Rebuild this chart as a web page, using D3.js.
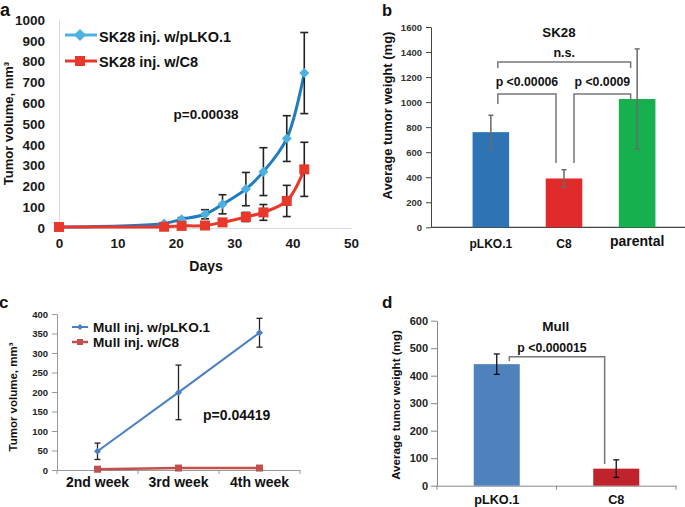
<!DOCTYPE html>
<html>
<head>
<meta charset="utf-8">
<script src="https://cdn.jsdelivr.net/npm/d3@7/dist/d3.min.js"></script>
<style>
  html, body { margin: 0; padding: 0; background: #fff; }
  svg { display: block; }
  text { font-family: "Liberation Sans", Arial, sans-serif; font-weight: bold; }
</style>
</head>
<body>
<script>
// ---------- DATA ----------
// Panel a: SK28 tumor volume over days
const daysA = [0, 18, 21, 25, 28, 32, 35, 39, 42];
const sk28PLKO = [5, 22, 42, 66, 114, 187, 271, 430, 745];
const sk28PLKOErr = [0, 0, 8, 22, 46, 80, 115, 110, 195];
const sk28C8 = [5, 6, 10, 12, 27, 53, 75, 130, 282];
const sk28C8Err = [0, 0, 0, 0, 6, 22, 38, 75, 130];
const ticksAy = [0, 100, 200, 300, 400, 500, 600, 700, 800, 900, 1000];
const ticksAx = [0, 10, 20, 30, 40, 50];
const legendA = ["SK28 inj. w/pLKO.1", "SK28 inj. w/C8"];
const pValueA = "p=0.00038";

// Panel b: SK28 average tumor weight
const catsB = ["pLKO.1", "C8", "parental"];
const weightB = [760, 390, 1025];
const weightBErr = [135, 70, 400];
const ticksBy = [0, 200, 400, 600, 800, 1000, 1200, 1400, 1600];

// Panel c: Mull tumor volume by week
const weeksC = ["2nd week", "3rd week", "4th week"];
const mullPLKO = [48, 199, 352];
const mullPLKOErr = [21, 70, 37];
const mullC8 = [2, 5, 5];
const ticksCy = [0, 50, 100, 150, 200, 250, 300, 350, 400];
const legendC = ["Mull inj. w/pLKO.1", "Mull inj. w/C8"];
const pValueC = "p=0.04419";

// Panel d: Mull average tumor weight
const catsD = ["pLKO.1", "C8"];
const weightD = [442, 62];
const weightDErr = [37, 32];
const ticksDy = [0, 100, 200, 300, 400, 500, 600];

// ---------- SVG ----------
const svg = d3.select("body").append("svg").attr("width", 685).attr("height", 507);
const fmt = d3.format("d");

function diamondPath(r) { return `M0,${-r}L${r},0L0,${r}L${-r},0Z`; }

function errBars(g, xs, vals, errs, y, cap, color, width) {
  const idx = d3.range(vals.length).filter(i => errs[i] > 0);
  const eg = g.append("g").attr("stroke", color).attr("stroke-width", width).attr("fill", "none");
  idx.forEach(i => {
    const x = xs[i], y1 = y(vals[i] + errs[i]), y0 = y(vals[i] - errs[i]);
    eg.append("line").attr("x1", x).attr("x2", x).attr("y1", y1).attr("y2", y0);
    eg.append("line").attr("x1", x - cap / 2).attr("x2", x + cap / 2).attr("y1", y1).attr("y2", y1);
    eg.append("line").attr("x1", x - cap / 2).attr("x2", x + cap / 2).attr("y1", y0).attr("y2", y0);
  });
}

// ================= PANEL A =================
{
  const g = svg.append("g");
  const x = d3.scaleLinear().domain([0, 50]).range([59, 351]);
  const y = d3.scaleLinear().domain([0, 1000]).range([228, 20]);
  const blue = "#1f7cc3", blueM = "#4cb0e0", red = "#e8382b";

  const ya = g.append("g").attr("transform", "translate(59,0)")
    .call(d3.axisLeft(y).tickValues(ticksAy).tickFormat(fmt).tickSize(0).tickPadding(14).tickSizeOuter(0));
  const xa = g.append("g").attr("transform", "translate(0,228)")
    .call(d3.axisBottom(x).tickValues(ticksAx).tickFormat(fmt).tickSize(0).tickPadding(10).tickSizeOuter(0));
  [ya, xa].forEach(a => {
    a.select(".domain").attr("stroke", "#d9d9d9").attr("stroke-width", 1);
    a.selectAll("text").attr("font-size", 13.5).attr("fill", "#1a1a1a");
  });

  const line = (vals) => d3.line().x((d, i) => x(daysA[i])).y(d => y(d)).curve(d3.curveCatmullRom.alpha(0.5))(vals);
  g.append("path").attr("d", line(sk28PLKO)).attr("fill", "none").attr("stroke", blue).attr("stroke-width", 3);
  g.append("path").attr("d", line(sk28C8)).attr("fill", "none").attr("stroke", red).attr("stroke-width", 3);

  const xs = daysA.map(d => x(d));
  errBars(g, xs, sk28PLKO, sk28PLKOErr, y, 8, "#222", 1.6);
  errBars(g, xs, sk28C8, sk28C8Err, y, 8, "#222", 1.6);

  g.selectAll(".dm").data(sk28PLKO).join("path")
    .attr("transform", (d, i) => `translate(${x(daysA[i])},${y(d)})`)
    .attr("d", diamondPath(5)).attr("fill", blueM);
  g.selectAll(".sq").data(sk28C8).join("rect")
    .attr("x", (d, i) => x(daysA[i]) - 5).attr("y", d => y(d) - 5)
    .attr("width", 10).attr("height", 10).attr("fill", red);

  // legend
  g.append("line").attr("x1", 65).attr("x2", 97).attr("y1", 35).attr("y2", 35).attr("stroke", blueM).attr("stroke-width", 3);
  g.append("path").attr("transform", "translate(80,35)").attr("d", diamondPath(6)).attr("fill", blueM);
  g.append("text").attr("x", 99).attr("y", 41.5).attr("font-size", 14.5).attr("fill", "#111").text(legendA[0]);
  g.append("line").attr("x1", 65).attr("x2", 97).attr("y1", 61).attr("y2", 61).attr("stroke", red).attr("stroke-width", 3);
  g.append("rect").attr("x", 75).attr("y", 56).attr("width", 10).attr("height", 10).attr("fill", red);
  g.append("text").attr("x", 99).attr("y", 66.5).attr("font-size", 14.5).attr("fill", "#111").text(legendA[1]);

  g.append("text").attr("x", 206).attr("y", 118.5).attr("text-anchor", "middle").attr("font-size", 13.5).attr("fill", "#111").text(pValueA);
  g.append("text").attr("x", 206).attr("y", 271).attr("text-anchor", "middle").attr("font-size", 14).attr("fill", "#111").text("Days");
  g.append("text").attr("transform", "translate(12.5,123.5) rotate(-90)").attr("text-anchor", "middle")
    .attr("font-size", 13).attr("fill", "#111").text("Tumor volume, mm³");
  g.append("text").attr("x", 0).attr("y", 16).attr("font-size", 18).attr("fill", "#111").text("a");
}

// ================= PANEL B =================
{
  const g = svg.append("g");
  const x = d3.scaleBand().domain(catsB).range([436, 692]).paddingInner(0.5).paddingOuter(0.5);
  const y = d3.scaleLinear().domain([0, 1600]).range([227.3, 27]);
  const colors = ["#2e74b5", "#e12a2b", "#17b04f"];

  const ya = g.append("g").attr("transform", "translate(431,0)")
    .call(d3.axisLeft(y).tickValues(ticksBy).tickFormat(fmt).tickSize(5).tickPadding(4).tickSizeOuter(0));
  ya.select(".domain").attr("stroke", "#444");
  ya.selectAll(".tick line").attr("stroke", "#444");
  ya.selectAll("text").attr("font-size", 9.5).attr("fill", "#333");
  g.append("line").attr("x1", 431).attr("x2", 685).attr("y1", y(0)).attr("y2", y(0)).attr("stroke", "#444").attr("stroke-width", 1.2);

  g.selectAll(".bar").data(weightB).join("rect")
    .attr("x", (d, i) => x(catsB[i])).attr("width", x.bandwidth())
    .attr("y", d => y(d)).attr("height", d => y(0) - y(d))
    .attr("fill", (d, i) => colors[i]);

  errBars(g, catsB.map(c => x(c) + x.bandwidth() / 2), weightB, weightBErr, y, 5, "#6a6a6a", 1.5);

  const cx = c => x(c) + x.bandwidth() / 2;
  const br = g.append("g").attr("stroke", "#777").attr("stroke-width", 1.5).attr("fill", "none");
  const l1 = cx("pLKO.1") + 7, r1 = cx("C8") - 8;
  br.append("path").attr("d", `M${l1},${y(985)}V${y(1065)}H${r1}V${y(513)}`);
  const l2 = cx("C8") + 10, r2 = cx("parental") - 6.5;
  br.append("path").attr("d", `M${l2},${y(513)}V${y(1065)}H${r2}V${y(1013)}`);
  br.append("path").attr("d", `M${l1},${y(1272)}V${y(1320)}H${r2}V${y(1272)}`);

  g.append("text").attr("x", (l1 + r1) / 2).attr("y", 86).attr("text-anchor", "middle").attr("font-size", 12.3).attr("fill", "#111").text("p <0.00006");
  g.append("text").attr("x", (l2 + r2) / 2).attr("y", 86).attr("text-anchor", "middle").attr("font-size", 12.3).attr("fill", "#111").text("p <0.0009");
  g.append("text").attr("x", (l1 + r2) / 2).attr("y", 57).attr("text-anchor", "middle").attr("font-size", 12.6).attr("fill", "#111").text("n.s.");
  g.append("text").attr("x", 559).attr("y", 37).attr("text-anchor", "middle").attr("font-size", 13.3).attr("fill", "#111").text("SK28");

  const labSize = { "pLKO.1": 12, "C8": 12, "parental": 14 };
  const labY = { "pLKO.1": 248, "C8": 248, "parental": 246 };
  g.selectAll(".xl").data(catsB).join("text")
    .attr("x", d => cx(d)).attr("y", d => labY[d]).attr("text-anchor", "middle")
    .attr("font-size", d => labSize[d]).attr("fill", "#111").text(d => d);

  g.append("text").attr("transform", "translate(392,115.5) rotate(-90)").attr("text-anchor", "middle")
    .attr("font-size", 13).attr("fill", "#111").text("Average tumor weight (mg)");
  g.append("text").attr("x", 382).attr("y", 16).attr("font-size", 16.5).attr("fill", "#111").text("b");
}

// ================= PANEL C =================
{
  const g = svg.append("g");
  const x = d3.scaleBand().domain(weeksC).range([57, 300]);
  const y = d3.scaleLinear().domain([0, 400]).range([470, 314]);
  const blue = "#4a7fc4", red = "#c0504d";
  const cx = c => x(c) + x.bandwidth() / 2;

  const ya = g.append("g").attr("transform", "translate(57,0)")
    .call(d3.axisLeft(y).tickValues(ticksCy).tickFormat(fmt).tickSize(5).tickPadding(4).tickSizeOuter(0));
  ya.select(".domain").attr("stroke", "#999");
  ya.selectAll(".tick line").attr("stroke", "#999");
  ya.selectAll("text").attr("font-size", 9.5).attr("fill", "#222");

  const xa = g.append("g").attr("transform", "translate(0,470)")
    .call(d3.axisBottom(x).tickSize(0).tickPadding(7).tickSizeOuter(0));
  xa.select(".domain").attr("stroke", "#999");
  xa.selectAll("text").attr("font-size", 14).attr("fill", "#111");
  const bounds = weeksC.map(w => x(w)).concat([x(weeksC[weeksC.length - 1]) + x.step()]);
  g.selectAll(".bt").data(bounds).join("line")
    .attr("x1", d => d).attr("x2", d => d).attr("y1", 470).attr("y2", 474).attr("stroke", "#999");

  const ln = d3.line().x((d, i) => cx(weeksC[i])).y(d => y(d));
  g.append("path").attr("d", ln(mullC8)).attr("fill", "none").attr("stroke", red).attr("stroke-width", 2.5);
  g.append("path").attr("d", ln(mullPLKO)).attr("fill", "none").attr("stroke", blue).attr("stroke-width", 2);

  errBars(g, weeksC.map(cx), mullPLKO, mullPLKOErr, y, 6, "#222", 1.3);

  g.selectAll(".sq").data(mullC8).join("rect")
    .attr("x", (d, i) => cx(weeksC[i]) - 3.5).attr("y", d => y(d) - 3.5)
    .attr("width", 7).attr("height", 7).attr("fill", red);
  g.selectAll(".dm").data(mullPLKO).join("path")
    .attr("transform", (d, i) => `translate(${cx(weeksC[i])},${y(d)})`)
    .attr("d", diamondPath(3.5)).attr("fill", blue);

  // legend
  g.append("line").attr("x1", 72).attr("x2", 88).attr("y1", 327).attr("y2", 327).attr("stroke", blue).attr("stroke-width", 2);
  g.append("path").attr("transform", "translate(80,327)").attr("d", diamondPath(3)).attr("fill", blue);
  g.append("text").attr("x", 93).attr("y", 332).attr("font-size", 13.6).attr("fill", "#111").text(legendC[0]);
  g.append("line").attr("x1", 72).attr("x2", 88).attr("y1", 342).attr("y2", 342).attr("stroke", red).attr("stroke-width", 2.5);
  g.append("rect").attr("x", 77).attr("y", 339).attr("width", 6).attr("height", 6).attr("fill", red);
  g.append("text").attr("x", 93).attr("y", 347).attr("font-size", 13.6).attr("fill", "#111").text(legendC[1]);

  g.append("text").attr("x", 203).attr("y", 420).attr("font-size", 14).attr("fill", "#111").text(pValueC);
  g.append("text").attr("transform", "translate(17,397) rotate(-90)").attr("text-anchor", "middle")
    .attr("font-size", 11.5).attr("fill", "#111").text("Tumor volume, mm³");
  g.append("text").attr("x", -1).attr("y", 308).attr("font-size", 17).attr("fill", "#111").text("c");
}

// ================= PANEL D =================
{
  const g = svg.append("g");
  const x = d3.scaleBand().domain(catsD).range([437, 676]).paddingInner(0.615).paddingOuter(0.3075);
  const y = d3.scaleLinear().domain([0, 600]).range([485.7, 320.7]);
  const colors = ["#4f81bd", "#c0232c"];
  const cx = c => x(c) + x.bandwidth() / 2;

  const ya = g.append("g").attr("transform", "translate(437,0)")
    .call(d3.axisLeft(y).tickValues(ticksDy).tickFormat(fmt).tickSize(6).tickPadding(3).tickSizeOuter(0));
  ya.select(".domain").attr("stroke", "#888");
  ya.selectAll(".tick line").attr("stroke", "#888");
  ya.selectAll("text").attr("font-size", 11).attr("fill", "#222");

  const xa = g.append("g").attr("transform", `translate(0,${y(0)})`)
    .call(d3.axisBottom(x).tickSize(0).tickPadding(9).tickSizeOuter(0));
  xa.select(".domain").attr("stroke", "#888");
  xa.selectAll("text").attr("font-size", 12.7).attr("fill", "#111");
  const step = (676 - 437) / catsD.length;
  const bounds = d3.range(catsD.length + 1).map(i => 437 + i * step);
  g.selectAll(".bt").data(bounds).join("line")
    .attr("x1", d => d).attr("x2", d => d).attr("y1", y(0)).attr("y2", y(0) + 4).attr("stroke", "#888");

  g.selectAll(".bar").data(weightD).join("rect")
    .attr("x", (d, i) => x(catsD[i])).attr("width", x.bandwidth())
    .attr("y", d => y(d)).attr("height", d => y(0) - y(d))
    .attr("fill", (d, i) => colors[i]);

  errBars(g, catsD.map(cx), weightD, weightDErr, y, 6, "#111", 1.3);

  const l = cx("pLKO.1") + 12.6, r = cx("C8") - 11.6;
  g.append("path").attr("d", `M${l},${y(453)}V${y(469)}H${r}V${y(79)}`)
    .attr("fill", "none").attr("stroke", "#777").attr("stroke-width", 1.5);

  g.append("text").attr("x", 555.7).attr("y", 330.7).attr("text-anchor", "middle").attr("font-size", 13.5).attr("fill", "#111").text("Mull");
  g.append("text").attr("x", 552).attr("y", 351.7).attr("text-anchor", "middle").attr("font-size", 12.3).attr("fill", "#111").text("p <0.000015");
  g.append("text").attr("transform", "translate(399.5,405) rotate(-90)").attr("text-anchor", "middle")
    .attr("font-size", 11.6).attr("fill", "#111").text("Average tumor weight (mg)");
  g.append("text").attr("x", 382).attr("y", 308).attr("font-size", 17).attr("fill", "#111").text("d");
}

d3.selectAll("svg text").style("font-family", "'Liberation Sans', Arial, sans-serif").style("font-weight", "bold");
</script>
</body>
</html>
